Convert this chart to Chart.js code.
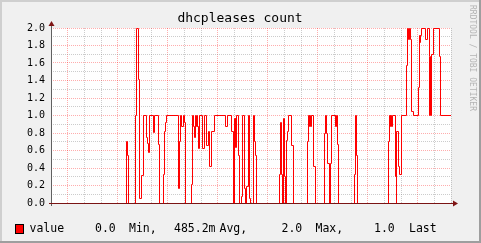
<!DOCTYPE html>
<html>
<head>
<meta charset="utf-8">
<script src="https://cdn.jsdelivr.net/npm/chart.js@4.4.1/dist/chart.umd.min.js"></script>
<style>
html,body{margin:0;padding:0;background:#F0F0F0;}
canvas{display:block;}
</style>
</head>
<body>
<canvas id="c" width="481" height="243"></canvas>
<script>
// ---- data (hours since Sat 00:00) ----
const times = [16.97,21.47,21.54,21.61,22.05,22.11,22.21,22.28,22.40,22.49,22.69,22.75,22.79,22.89,23.09,23.19,23.43,23.49,23.71,23.77,23.83,23.89,24.59,24.67,24.71,24.79,24.89,24.97,25.03,25.37,25.47,25.52,25.57,25.65,25.69,25.73,25.77,25.81,25.87,26.05,26.15,26.31,26.41,26.49,26.61,26.75,27.45,27.55,27.81,27.89,27.97,28.01,28.05,28.09,28.11,28.19,28.27,28.37,28.47,28.55,28.63,28.71,28.79,28.85,28.95,29.11,29.17,29.23,29.31,30.67,30.71,30.81,30.85,30.91,30.97,31.05,31.11,31.15,31.19,31.41,31.53,32.33,32.41,32.45,32.49,32.53,32.57,32.73,32.85,33.35,33.43,33.51,33.55,33.67,33.73,33.77,34.01,34.05,34.09,34.13,34.15,34.22,35.17,35.23,35.29,35.36,37.21,37.27,37.31,37.35,37.39,37.43,37.63,37.67,37.73,37.81,37.89,37.97,38.31,38.37,38.43,38.47,38.51,38.57,38.71,39.01,39.07,39.11,39.15,39.21,39.45,39.57,39.65,39.69,39.73,39.77,39.81,39.93,40.27,40.35,40.97];
const values = [0,0.70,0.54,0,1.0,2.0,1.41,0.05,0.32,1.0,0.75,0.68,0.58,1.0,0.81,1.0,0.67,0,0.33,0.82,0.92,1.0,0.17,0.70,1.0,0.88,1.0,0.92,0,0.21,1.0,0.88,0.75,1.0,0.88,1.0,0.88,0.62,1.0,0.62,1.0,0.66,0.82,0.42,0.82,1.0,0.88,1.0,0.82,0,0.97,0.64,0.97,0.64,1.0,0.54,0,0.08,1.0,0.17,0,0.19,1.0,0.05,0,1.0,0.70,0.54,0,0.33,0.92,0.33,0,0.97,0.30,0,0.71,0.82,1.0,0.66,0,0.70,1.0,0.87,1.0,0.87,1.0,0.42,0,0.80,1.0,0.80,0.45,0,0.45,1.0,0.88,1.0,0.88,1.0,0.67,0,0.33,1.0,0.54,0,0.70,1.0,0.87,1.0,0.87,1.0,0.30,0,0.82,0.42,0.33,1.0,1.57,2.0,1.87,2.0,1.87,1.05,1.0,1.32,1.92,1.83,1.92,2.0,1.87,2.0,1.67,1.0,1.67,1.0,1.70,2.0,1.67,1.0,1.0];
const xLabelHours = [18, 24, 30, 36];
const xLabels = ['Sat 18:00', 'Sun 00:00', 'Sun 06:00', 'Sun 12:00'];
const titleText = 'dhcpleases count';
const seriesName = 'value';
const statValues = ['0.0', '485.2m', '2.0', '1.0'];
const statNames = ['Min,', 'Avg,', 'Max,', 'Last'];
const watermark = 'RRDTOOL / TOBI OETIKER';

const MONO = '"DejaVu Sans Mono", monospace';
const MAJOR = 'rgba(255,0,0,0.32)';
const MINOR = 'rgba(128,128,128,0.40)';

const points = times.map((t, i) => ({x: t, y: values[i]}));

const decor = {
  id: 'decor',
  beforeDraw(chart) {
    const ctx = chart.ctx, a = chart.chartArea;
    ctx.save();
    ctx.fillStyle = '#F0F0F0';
    ctx.fillRect(0, 0, 481, 243);
    ctx.fillStyle = '#CFCFCF';
    ctx.fillRect(0, 0, 481, 2);
    ctx.fillRect(0, 0, 2, 243);
    ctx.fillStyle = '#9E9E9E';
    ctx.fillRect(0, 241, 481, 2);
    ctx.fillRect(479, 0, 2, 243);
    ctx.fillStyle = '#FFFFFF';
    ctx.fillRect(a.left, a.top, a.right - a.left, a.bottom - a.top);
    ctx.restore();
  },
  beforeDatasetsDraw(chart) {
    // snap the library-computed point positions to pixel centres for crisp 1px steps
    chart.getDatasetMeta(0).data.forEach(p => {
      p.x = Math.round(p.x - 0.5) + 0.5;
      p.y = Math.round(p.y - 0.5) + 0.5;
    });
  },
  afterDatasetsDraw(chart) {
    const ctx = chart.ctx, a = chart.chartArea;
    ctx.save();
    ctx.lineWidth = 1;
    ctx.strokeStyle = '#606060';
    ctx.beginPath();
    ctx.moveTo(a.left + 0.5, a.bottom + 3);
    ctx.lineTo(a.left + 0.5, a.top - 3);
    ctx.stroke();
    ctx.strokeStyle = '#7A1414';
    ctx.beginPath();
    ctx.moveTo(a.left - 2, a.bottom + 0.5);
    ctx.lineTo(a.right + 3, a.bottom + 0.5);
    ctx.stroke();
    ctx.fillStyle = '#7F1515';
    ctx.beginPath();
    ctx.moveTo(a.left + 0.5, a.top - 7);
    ctx.lineTo(a.left - 2.5, a.top - 2);
    ctx.lineTo(a.left + 3.5, a.top - 2);
    ctx.closePath();
    ctx.fill();
    ctx.beginPath();
    ctx.moveTo(a.right + 7, a.bottom + 0.5);
    ctx.lineTo(a.right + 2, a.bottom - 2.5);
    ctx.lineTo(a.right + 2, a.bottom + 3.5);
    ctx.closePath();
    ctx.fill();
    ctx.restore();
  },
  afterDraw(chart) {
    const ctx = chart.ctx;
    ctx.save();
    ctx.fillStyle = '#000';
    ctx.font = '13px ' + MONO;
    ctx.textAlign = 'center';
    ctx.textBaseline = 'middle';
    ctx.fillText(titleText, 240, 19);
    ctx.fillStyle = '#FF0000';
    ctx.fillRect(15, 224, 9, 10);
    ctx.strokeStyle = '#000';
    ctx.lineWidth = 1;
    ctx.strokeRect(15.5, 224.5, 8, 9);
    ctx.fillStyle = '#000';
    ctx.font = '11.5px ' + MONO;
    ctx.textAlign = 'left';
    ctx.fillText(seriesName, 29.5, 229.5);
    const valX = [95, 174, 281.5, 374];
    const nameX = [129, 219.5, 315.5, 409];
    for (let i = 0; i < statValues.length; i++) {
      ctx.fillText(statValues[i], valX[i], 229.5);
      ctx.fillText(statNames[i], nameX[i], 229.5);
    }
    ctx.translate(472, 5);
    ctx.rotate(Math.PI / 2);
    ctx.fillStyle = '#B4B4B4';
    ctx.font = '8px ' + MONO;
    ctx.textBaseline = 'middle';
    ctx.fillText(watermark, 0, 0);
    ctx.restore();
  }
};

new Chart(document.getElementById('c'), {
  type: 'line',
  data: {
    datasets: [{
      label: seriesName,
      data: points,
      stepped: 'before',
      borderColor: '#FF0000',
      borderWidth: 1,
      pointRadius: 0,
      fill: false,
      tension: 0
    }]
  },
  options: {
    responsive: false,
    animation: false,
    devicePixelRatio: 1,
    layout: {padding: {left: 0, right: 30, top: 28, bottom: 0}},
    plugins: {legend: {display: false}, tooltip: {enabled: false}, title: {display: false}},
    scales: {
      x: {
        type: 'linear',
        min: 16.97,
        max: 40.97,
        afterFit: s => { s.height = 40; },
        border: {display: false, dash: [1, 1]},
        grid: {
          color: c => (Math.round(c.tick.value) % 3 === 0 ? MAJOR : MINOR),
          tickColor: 'rgba(0,0,0,0)',
          tickLength: 2,
          lineWidth: 1
        },
        ticks: {
          stepSize: 1,
          includeBounds: false,
          autoSkip: false,
          maxRotation: 0,
          padding: 2,
          color: '#000',
          font: {family: MONO, size: 10},
          callback: v => {
            const i = xLabelHours.indexOf(Math.round(v));
            return (Math.abs(v - Math.round(v)) < 1e-6 && i >= 0) ? xLabels[i] : '';
          }
        }
      },
      y: {
        min: 0,
        max: 2,
        afterFit: s => { s.width = 51; },
        border: {display: false, dash: [1, 1]},
        grid: {
          color: c => (Math.round(c.tick.value * 10) % 2 === 0 ? MAJOR : MINOR),
          tickColor: 'rgba(0,0,0,0)',
          tickLength: 2,
          lineWidth: 1
        },
        ticks: {
          stepSize: 0.1,
          autoSkip: false,
          padding: 4,
          color: '#000',
          font: {family: MONO, size: 10},
          callback: v => (Math.round(v * 10) % 2 === 0 ? v.toFixed(1) : '')
        }
      }
    }
  },
  plugins: [decor]
});
</script>
</body>
</html>
